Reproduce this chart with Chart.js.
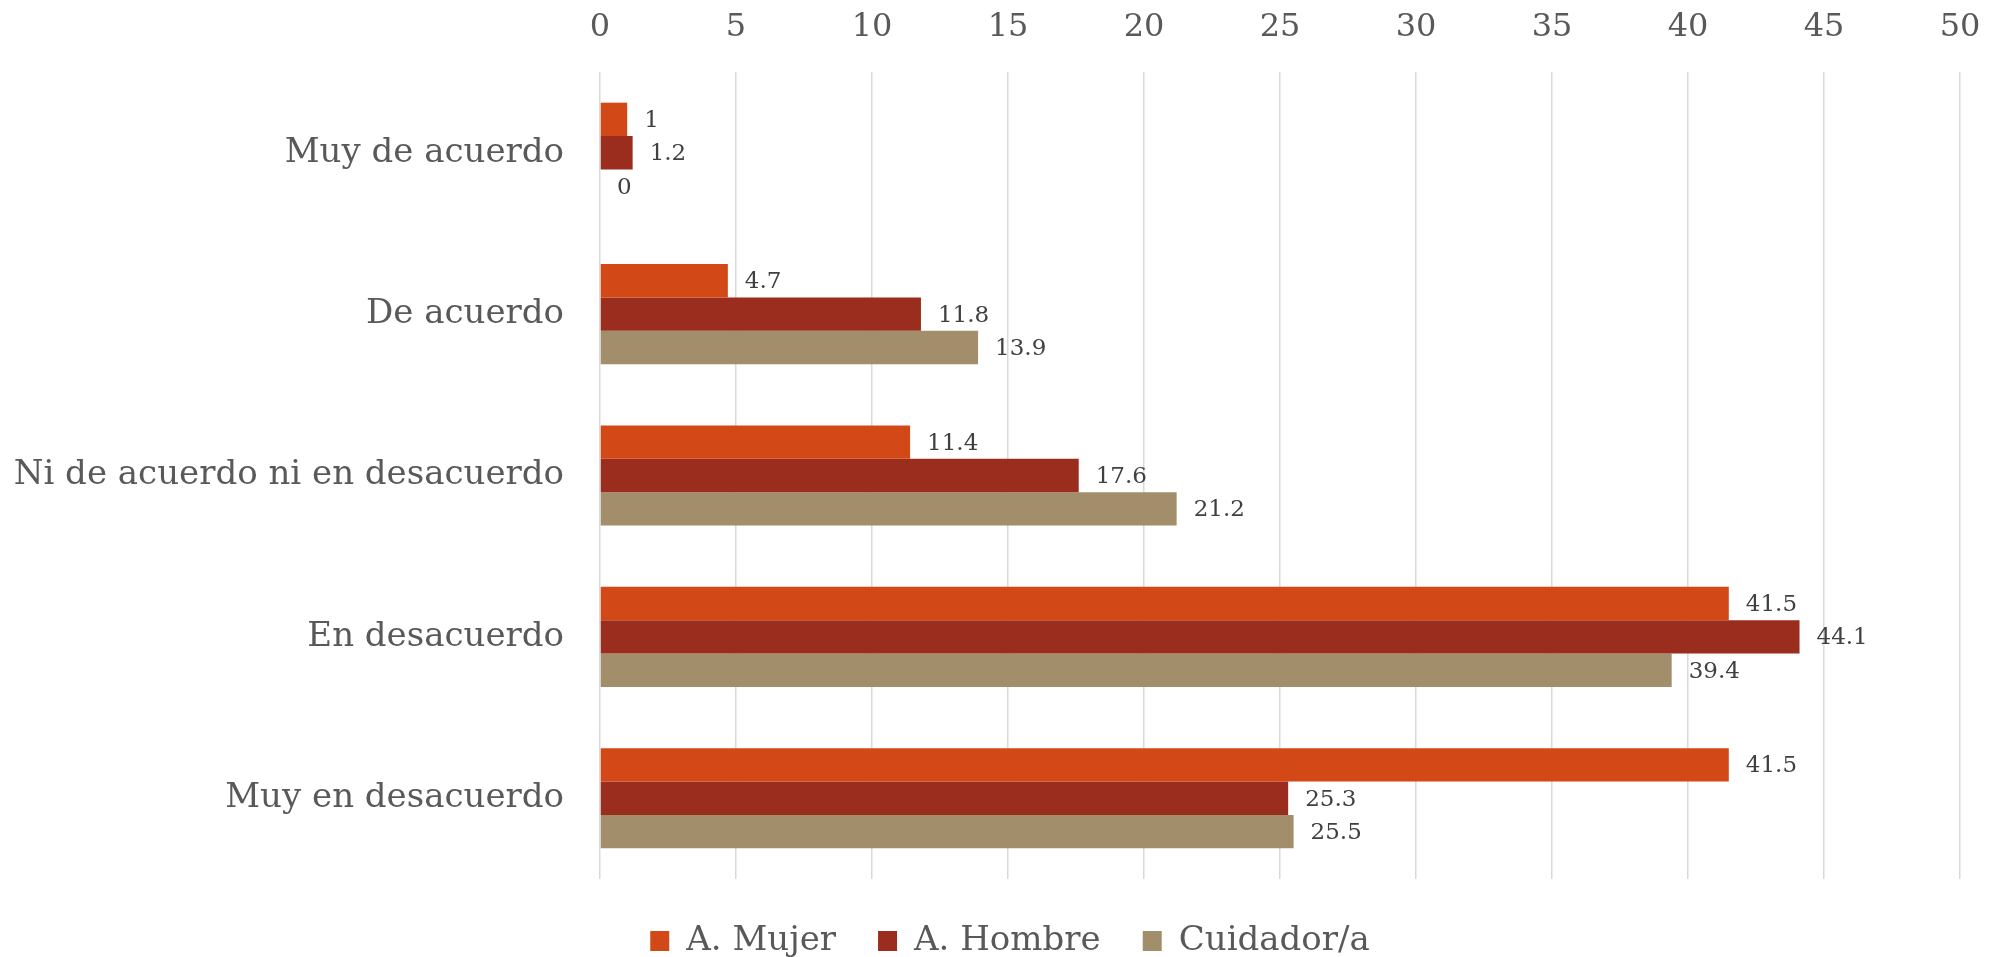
<!DOCTYPE html>
<html>
<head>
<meta charset="utf-8">
<script src="https://cdn.jsdelivr.net/npm/chart.js@4/dist/chart.umd.min.js"></script>
<style>
html,body{margin:0;padding:0;background:#fff;}
#wrap{width:1992px;height:957px;position:relative;}
</style>
</head>
<body>
<div id="wrap"><canvas id="c"></canvas></div>
<script>
const categories = ["Muy de acuerdo", "De acuerdo", "Ni de acuerdo ni en desacuerdo", "En desacuerdo", "Muy en desacuerdo"];
const seriesNames = ["A. Mujer", "A. Hombre", "Cuidador/a"];
const mujer = [1, 4.7, 11.4, 41.5, 41.5];
const hombre = [1.2, 11.8, 17.6, 44.1, 25.3];
const cuidador = [0, 13.9, 21.2, 39.4, 25.5];
const seriesColors = ["#D34817", "#9B2D1F", "#A28E6A"];
const axisMin = 0, axisMax = 50, axisStep = 5;

const FONT = "'DejaVu Serif', serif";

const valueLabels = {
  id: 'valueLabels',
  afterDatasetsDraw(chart) {
    const ctx = chart.ctx;
    ctx.save();
    ctx.font = "23px " + FONT;
    ctx.fillStyle = '#404040';
    ctx.textAlign = 'left';
    ctx.textBaseline = 'middle';
    chart.data.datasets.forEach((ds, i) => {
      const meta = chart.getDatasetMeta(i);
      meta.data.forEach((bar, j) => {
        ctx.fillText(String(ds.data[j]), bar.x + 17, bar.y + 1.5);
      });
    });
    ctx.restore();
  }
};

const legendShift = {
  id: 'legendShift',
  afterLayout(chart) {
    const lg = chart.legend;
    if (lg) {
      lg.left += 30; lg.right += 30;
      lg.top += 3; lg.bottom += 3;
    }
  }
};

const seriesData = [mujer, hombre, cuidador];
new Chart(document.getElementById('c'), {
  type: 'bar',
  data: {
    labels: categories,
    datasets: seriesNames.map((n, i) => ({
      label: n,
      data: seriesData[i],
      backgroundColor: seriesColors[i],
      borderWidth: 0,
      categoryPercentage: 0.62,
      barPercentage: 1.0
    }))
  },
  options: {
    indexAxis: 'y',
    responsive: true,
    maintainAspectRatio: false,
    animation: false,
    layout: { padding: { left: 0, right: 32, top: 0, bottom: 0 } },
    scales: {
      x: {
        position: 'top',
        min: axisMin, max: axisMax,
        ticks: { stepSize: axisStep, color: '#595959', font: { family: FONT, size: 32 }, padding: 25 },
        grid: { color: '#D9D9D9', lineWidth: 1.5, drawTicks: false },
        border: { display: false },
        afterFit(scale) { scale.height = 72; scale.paddingRight = 0; scale.paddingLeft = 0; }
      },
      y: {
        ticks: { color: '#595959', font: { family: FONT, size: 34 }, padding: 36 },
        grid: { display: false, drawTicks: false },
        border: { display: false },
        afterFit(scale) { scale.width = 600; scale.paddingTop = 0; scale.paddingBottom = 0; }
      }
    },
    plugins: {
      legend: {
        position: 'bottom',
        maxHeight: 78,
        labels: {
          color: '#595959',
          font: { family: FONT, size: 34 },
          boxWidth: 19,
          boxHeight: 20,
          padding: 42
        }
      },
      tooltip: { enabled: false }
    }
  },
  plugins: [valueLabels, legendShift]
});
</script>
</body>
</html>
